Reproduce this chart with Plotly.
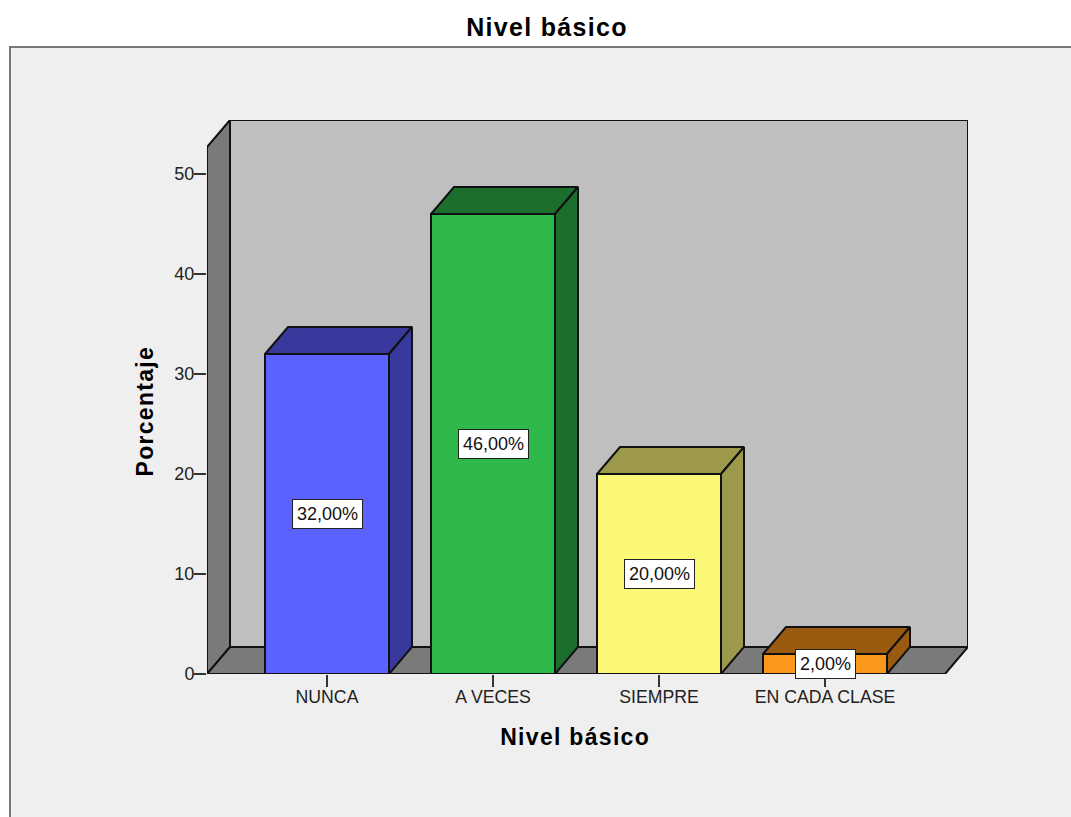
import plotly.graph_objects as go

# --- data ---
categories = ["NUNCA", "A VECES", "SIEMPRE", "EN CADA CLASE"]
values = [32, 46, 20, 2]
labels = ["32,00%", "46,00%", "20,00%", "2,00%"]
front_colors = ["#5b62ff", "#2eb84a", "#fbf877", "#fb981c"]
side_colors = ["#38399c", "#1c6e2c", "#9c9a4a", "#9a5a10"]
y_ticks = [0, 10, 20, 30, 40, 50]

# --- layout constants ---
W, H = 1071, 817
L, R, T, B = 207, 968, 120, 674
PX_PER_CAT = 166.0
PX_PER_UNIT = 10.0
CENTER0 = 327.0
DX = 23 / PX_PER_CAT      # depth in category units
DY = 27 / PX_PER_UNIT     # depth in value units
BAR_W = 124 / PX_PER_CAT
x_min = (L - CENTER0) / PX_PER_CAT
x_max = (R - CENTER0) / PX_PER_CAT
y_max = (B - T) / PX_PER_UNIT
x_front_max = x_max - DX
y_front_max = y_max - DY
EDGE = "#111111"
WALL = "#bfbfbf"
SIDE = "#7a7a7a"
PANEL = "#efefef"
FONT = "Liberation Sans"

xs = list(range(len(categories)))
fig = go.Figure()

# front faces
fig.add_trace(go.Bar(
    x=xs, y=values, width=BAR_W,
    marker=dict(color=front_colors, line=dict(color=EDGE, width=2)),
    hoverinfo="skip", showlegend=False,
))

# depth faces derived from the values
for x, v, c in zip(xs, values, side_colors):
    x0, x1 = x - BAR_W / 2, x + BAR_W / 2
    fig.add_trace(go.Scatter(
        x=[x0, x0 + DX, x1 + DX, x1, x0], y=[v, v + DY, v + DY, v, v],
        mode="lines", fill="toself", fillcolor=c,
        line=dict(color=EDGE, width=2), hoverinfo="skip", showlegend=False))
    fig.add_trace(go.Scatter(
        x=[x1, x1 + DX, x1 + DX, x1, x1], y=[v, v + DY, DY, 0, v],
        mode="lines", fill="toself", fillcolor=c,
        line=dict(color=EDGE, width=2), hoverinfo="skip", showlegend=False))

def poly(pts, fill):
    path = "M " + " L ".join(f"{a},{b}" for a, b in pts) + " Z"
    return dict(type="path", path=path, xref="x", yref="y", layer="below",
                fillcolor=fill, line=dict(color=EDGE, width=2))

shapes = [
    # light panel with its frame, running off the right and bottom edges
    dict(type="rect", xref="paper", yref="paper", layer="below",
         x0=(10 - L) / (R - L), x1=(W + 20 - L) / (R - L),
         y0=(B - (H + 20)) / (B - T), y1=(B - 47) / (B - T),
         fillcolor=PANEL, line=dict(color="#777777", width=2)),
    poly([(x_min + DX, DY), (x_max, DY), (x_max, y_max), (x_min + DX, y_max)], WALL),
    poly([(x_min, 0), (x_min + DX, DY), (x_min + DX, y_max), (x_min, y_front_max)], SIDE),
    poly([(x_min, 0), (x_front_max, 0), (x_max, DY), (x_min + DX, DY)], SIDE),
]

annotations = [
    dict(x=x, y=v / 2, text=t, xref="x", yref="y", showarrow=False,
         xanchor="center", yanchor="middle",
         font=dict(family=FONT, size=18, color="#111111"),
         bgcolor="#ffffff", bordercolor="#222222", borderwidth=1, borderpad=4)
    for x, v, t in zip(xs, values, labels)
]
title_font = dict(family=FONT, size=23, color="#000000", weight="bold")
annotations += [
    dict(x=(575 - L) / (R - L), y=(B - 737) / (B - T), xref="paper", yref="paper",
         xanchor="center", yanchor="middle",
         text="Nivel básico", showarrow=False, font=title_font),
    dict(x=(145 - L) / (R - L), y=(B - 411) / (B - T), xref="paper", yref="paper",
         xanchor="center", yanchor="middle",
         text="Porcentaje", textangle=-90, showarrow=False, font=title_font),
    dict(x=(547 - L) / (R - L), y=(B - 27) / (B - T), xref="paper", yref="paper",
         xanchor="center", yanchor="middle",
         text="Nivel básico", showarrow=False,
         font=dict(family=FONT, size=25, color="#000000", weight="bold")),
]

fig.update_layout(
    width=W, height=H,
    margin=dict(l=L, r=W - R, t=T, b=H - B, pad=0),
    paper_bgcolor="#ffffff", plot_bgcolor="rgba(0,0,0,0)",
    showlegend=False, shapes=shapes, annotations=annotations,
    xaxis=dict(type="linear", range=[x_min, x_max], tickmode="array",
               tickvals=xs, ticktext=categories, ticks="outside", ticklen=12,
               tickwidth=2, tickcolor="#333333", showgrid=False, zeroline=False,
               showline=False, fixedrange=True, ticklabelstandoff=-5,
               tickfont=dict(family=FONT, size=17.7, color="#222222")),
    yaxis=dict(range=[0, y_max], tickmode="array", tickvals=y_ticks,
               ticks="outside", ticklen=12, tickwidth=2, tickcolor="#333333",
               showgrid=False, zeroline=False, showline=False, fixedrange=True,
               ticklabelstandoff=-4,
               tickfont=dict(family=FONT, size=18, color="#222222")),
)

post = """
document.documentElement.style.overflow='hidden';
document.body.style.margin='0';
document.querySelectorAll('.annotation-text').forEach(function(t){
  if(t.textContent==='Nivel básico'||t.textContent==='Porcentaje'){t.style.letterSpacing='1.3px';}
});
"""
fig.write_html("out.html", post_script=post, config={"displayModeBar": False})
